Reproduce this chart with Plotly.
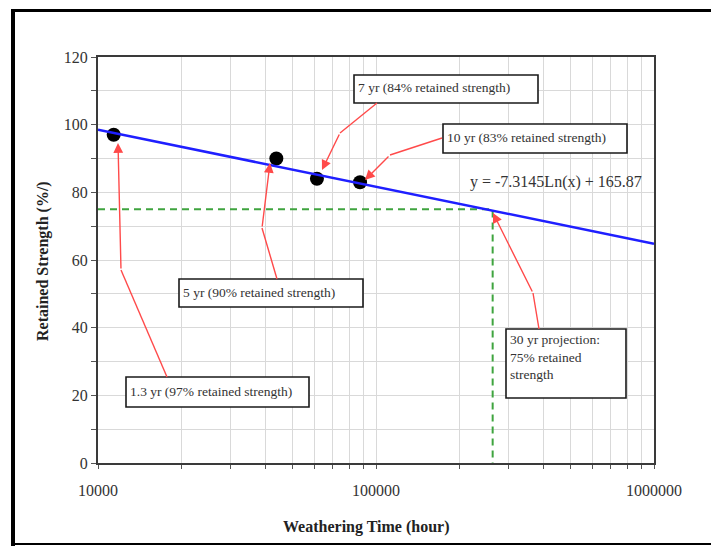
import math
import plotly.graph_objects as go

# Measured retained strength after outdoor weathering
hours = [11388, 43800, 61320, 87600]
strength = [97, 90, 84, 83]

# Logarithmic fit: y = a*ln(x) + b
fit_a = -7.3145
fit_b = 165.87
fit_span = [10000, 1000000]

# 30-year projection
proj_hours = 262800
proj_strength = 75

y_ticks = list(range(0, 121, 10))
y_labels = [str(v) if v % 20 == 0 else "" for v in y_ticks]
x_ticks = [m * 10 ** e for e in (4, 5) for m in range(1, 10)] + [1000000]
x_labels = [str(v) if math.log10(v).is_integer() else "" for v in x_ticks]

W, H = 711, 546
L, R, T, B = 98, 654, 57, 463
SERIF = "Liberation Serif, Times New Roman, serif"


def px(xp, yp):
    """Canvas pixel -> paper coordinates of the plotting area."""
    return (xp - L) / (R - L), (B - yp) / (B - T)


fig = go.Figure()

# projection guide lines
fig.add_trace(go.Scatter(
    x=[fit_span[0], proj_hours, proj_hours], y=[proj_strength, proj_strength, 0],
    mode="lines", line=dict(color="#3fa43f", width=2, dash="7px,5px"),
    hoverinfo="skip"))

fig.add_trace(go.Scatter(
    x=hours, y=strength, mode="markers",
    marker=dict(color="black", size=14)))

fit_y = [fit_a * math.log(v) + fit_b for v in fit_span]
fig.add_trace(go.Scatter(
    x=fit_span, y=fit_y, mode="lines", line=dict(color="#1f1fff", width=2.5)))

shapes = []
annotations = []

# callout boxes: text, left, top, right, bottom (px)
boxes = [
    ("7 yr (84% retained strength)", 354, 75, 538, 103, "middle"),
    ("10 yr (83% retained strength)", 443, 124, 627, 153, "middle"),
    ("5 yr (90% retained strength)", 179, 279, 363, 307, "middle"),
    ("1.3 yr (97% retained strength)", 126, 377, 309, 407, "middle"),
    ("30 yr projection:<br>75% retained<br>strength", 506, 329, 626, 398, "top"),
]
for text, x0, y0, x1, y1, va in boxes:
    a0, b0 = px(x0, y0)
    a1, b1 = px(x1, y1)
    shapes.append(dict(type="rect", xref="paper", yref="paper",
                       x0=a0, y0=b0, x1=a1, y1=b1,
                       line=dict(color="#1a1a1a", width=1.6), fillcolor="white",
                       layer="above"))
    ty = y0 + 1 if va == "top" else (y0 + y1) / 2 - 1
    tx, tyy = px(x0 + 2, ty)
    annotations.append(dict(text=text, xref="paper", yref="paper", x=tx, y=tyy,
                            xanchor="left", yanchor="top" if va == "top" else "middle",
                            align="left", showarrow=False,
                            font=dict(family=SERIF, size=13.5, color="#333333")))

# leader lines: start (box edge), bend, tip
leaders = [
    ((167, 377), (121, 270), (118, 143)),
    ((277, 279), (262, 228), (270, 163)),
    ((377, 103), (340, 133), (322, 170)),
    ((442, 138), (390, 155), (365, 180)),
    ((539, 329), (533, 293), (493, 213)),
]
RED = "#ff4a4a"
for (sx, sy), (bx, by), (tx, ty) in leaders:
    p0 = px(sx, sy)
    p1 = px(bx, by)
    shapes.append(dict(type="line", xref="paper", yref="paper",
                       x0=p0[0], y0=p0[1], x1=p1[0], y1=p1[1],
                       line=dict(color=RED, width=1.4)))
    pt = px(tx, ty)
    annotations.append(dict(text="", xref="paper", yref="paper", x=pt[0], y=pt[1],
                            ax=bx - tx, ay=by - ty, axref="pixel", ayref="pixel",
                            showarrow=True, arrowhead=2, arrowsize=1.4,
                            arrowwidth=1.4, arrowcolor=RED, standoff=0))

# fit equation
ex, ey = px(468, 182)
annotations.append(dict(text="y = -7.3145Ln(x) + 165.87", xref="paper", yref="paper",
                        x=ex, y=ey, xanchor="left", yanchor="middle", showarrow=False,
                        font=dict(family=SERIF, size=16, color="#333333")))

# axis titles
tx_, ty_ = px(366, 527)
annotations.append(dict(text="<b>Weathering Time (hour)</b>", xref="paper", yref="paper",
                        x=tx_, y=ty_, xanchor="center", yanchor="middle", showarrow=False,
                        font=dict(family=SERIF, size=16, color="#222222")))
tx_, ty_ = px(43, 261)
annotations.append(dict(text="<b>Retained Strength (%/)</b>", xref="paper", yref="paper",
                        x=tx_, y=ty_, xanchor="center", yanchor="middle", showarrow=False,
                        textangle=-90,
                        font=dict(family=SERIF, size=16, color="#222222")))

# outer frame
for (x0, y0, x1, y1, w) in [(13, 9, 13, 546, 4), (11, 10.5, 712, 10.5, 3),
                            (11, 544, 712, 544, 2)]:
    a0, b0 = px(x0, y0)
    a1, b1 = px(x1, y1)
    shapes.append(dict(type="line", xref="paper", yref="paper",
                       x0=a0, y0=b0, x1=a1, y1=b1, line=dict(color="black", width=w)))

fig.update_layout(
    width=W, height=H,
    margin=dict(l=L, r=W - R, t=T, b=H - B),
    paper_bgcolor="white", plot_bgcolor="white",
    showlegend=False,
    shapes=shapes, annotations=annotations,
    xaxis=dict(type="log", range=[4, 6], tickvals=x_ticks, ticktext=x_labels,
               showgrid=True, gridcolor="#d9d9d9", gridwidth=1,
               ticks="outside", ticklen=4, tickcolor="#555555",
               ticklabelstandoff=8,
               showline=True, linecolor="#3a3a3a", linewidth=2, mirror=True,
               zeroline=False,
               tickfont=dict(family=SERIF, size=16, color="#333333")),
    yaxis=dict(range=[0, 120], tickvals=y_ticks, ticktext=y_labels,
               showgrid=True, gridcolor="#d9d9d9", gridwidth=1,
               ticks="outside", ticklen=5, tickcolor="#555555",
               showline=True, linecolor="#3a3a3a", linewidth=2, mirror=True,
               zeroline=False,
               tickfont=dict(family=SERIF, size=16, color="#333333")),
)

fig.write_html("out.html")
